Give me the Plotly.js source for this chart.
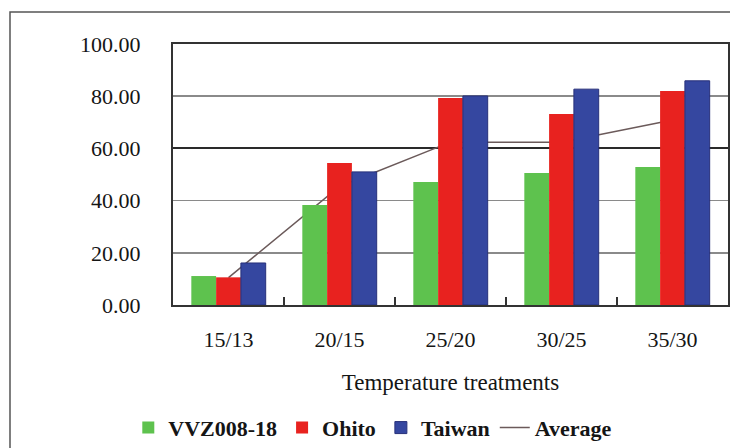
<!DOCTYPE html>
<html>
<head>
<meta charset="utf-8">
<script src="https://cdn.plot.ly/plotly-3.0.1.min.js"></script>
<style>
  html, body { margin: 0; padding: 0; background: #ffffff; }
  #chart { width: 730px; height: 448px; }
</style>
</head>
<body>
<div id="chart"></div>
<script>
// Temperature treatments (day/night, °C)
const categories = ['15/13', '20/15', '25/20', '30/25', '35/30'];

// Values per cultivar
const vvz00818 = [11.1, 38.3, 47.1, 50.6, 52.9];
const ohito    = [10.6, 54.4, 79.3, 73.2, 82.0];
const taiwan   = [16.1, 51.0, 80.1, 82.7, 85.9];
const average  = [10.5, 45.4, 62.4, 62.4, 70.9];

const yTickVals = [0, 20, 40, 60, 80, 100];
const yTickText = ['0.00', '20.00', '40.00', '60.00', '80.00', '100.00'];

const serif = 'Liberation Serif, Times New Roman, serif';
const ink = '#151515';

const traces = [
  // the average line sits on the base axes so the bars (overlay axes) cover it
  {
    type: 'scatter', mode: 'lines', name: 'Average', x: categories, y: average,
    xaxis: 'x', yaxis: 'y',
    line: { color: '#6b5a5a', width: 1.5 },
    legendrank: 2000
  },
  {
    type: 'bar', name: 'VVZ008-18', x: categories, y: vvz00818,
    xaxis: 'x2', yaxis: 'y2', legendrank: 1,
    marker: { color: '#5ec24e', line: { width: 0 } }
  },
  {
    type: 'bar', name: 'Ohito', x: categories, y: ohito,
    xaxis: 'x2', yaxis: 'y2', legendrank: 2,
    marker: { color: '#e8221f', line: { width: 0 } }
  },
  {
    type: 'bar', name: 'Taiwan', x: categories, y: taiwan,
    xaxis: 'x2', yaxis: 'y2', legendrank: 3,
    marker: { color: '#3547a0', line: { color: '#27307a', width: 1 } }
  }
];

const layout = {
  width: 730, height: 448,
  margin: { l: 173, r: 2, t: 44, b: 143, autoexpand: false },
  paper_bgcolor: '#ffffff',
  plot_bgcolor: 'rgba(0,0,0,0)',
  barmode: 'group',
  bargap: 0.33,
  bargroupgap: 0,
  font: { family: serif, size: 22, color: ink },
  xaxis: {
    type: 'category', range: [-0.5, 4.5],
    showline: true, linecolor: '#333333', linewidth: 2, mirror: true,
    ticks: 'inside', tickson: 'boundaries', ticklen: 8, tickwidth: 1.5, tickcolor: '#333333',
    tickfont: { family: serif, size: 22, color: ink },
    ticklabelstandoff: 14,
    showgrid: false, zeroline: false,
    title: { text: 'Temperature treatments', font: { family: serif, size: 23, color: ink }, standoff: 22 }
  },
  yaxis: {
    range: [0, 100],
    tickvals: yTickVals, ticktext: yTickText,
    showline: true, linecolor: '#333333', linewidth: 2, mirror: true,
    ticks: '', ticklabelstandoff: 26,
    tickfont: { family: serif, size: 22, color: ink },
    showgrid: true, gridcolor: '#8a8a8a', gridwidth: 1.5,
    zeroline: false
  },
  xaxis2: {
    type: 'category', overlaying: 'x', range: [-0.5, 4.5],
    visible: false
  },
  // bar axis; its single gridline gives the darker rule at 60
  yaxis2: {
    overlaying: 'y', range: [0, 100],
    tickvals: [60], showticklabels: false, ticks: '',
    showgrid: true, gridcolor: '#2a2a2a', gridwidth: 2,
    showline: false, zeroline: false
  },
  legend: {
    orientation: 'h',
    traceorder: 'normal',
    x: 0.36, xanchor: 'center', xref: 'paper',
    y: -0.39, yanchor: 'top',
    font: { family: serif, size: 22, color: ink, weight: 'bold' },
    itemwidth: 30,
    bgcolor: 'rgba(0,0,0,0)'
  },
  shapes: [
    {
      type: 'rect', xref: 'paper', yref: 'paper',
      x0: -0.2937, x1: 1.02, y0: -0.60, y1: 1.1226,
      line: { color: '#555555', width: 1.5 }, fillcolor: 'rgba(0,0,0,0)',
      layer: 'below'
    }
  ],
  showlegend: true
};

Plotly.newPlot('chart', traces, layout, { displayModeBar: false, staticPlot: true });
</script>
</body>
</html>
